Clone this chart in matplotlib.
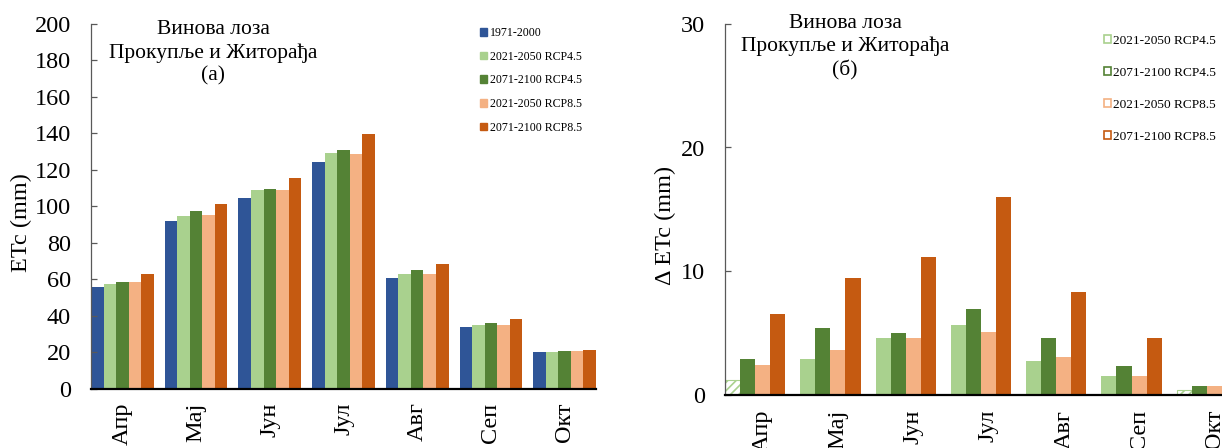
import numpy as np
import matplotlib
matplotlib.use("Agg")
import matplotlib.pyplot as plt
from matplotlib.patches import Patch

plt.rcParams["font.family"] = ["Liberation Serif", "DejaVu Serif"]
plt.rcParams["hatch.linewidth"] = 1.2

months = ["Апр", "Мај", "Јун", "Јул", "Авг", "Сеп", "Окт"]
labels = ["1971-2000", "2021-2050 RCP4.5", "2071-2100 RCP4.5",
          "2021-2050 RCP8.5", "2071-2100 RCP8.5"]
colors = ["#2F5597", "#A9D18E", "#548235", "#F4B183", "#C55A11"]

# ETc (mm), panel (a)
etc_base = [55.8, 91.9, 104.3, 124.1, 60.4, 33.7, 19.8]
etc_45_2050 = [57.3, 94.8, 108.9, 129.2, 62.8, 35.1, 20.1]
etc_45_2100 = [58.6, 97.3, 109.4, 130.6, 65.0, 35.9, 20.5]
etc_85_2050 = [58.2, 95.2, 108.9, 128.8, 63.1, 35.1, 20.5]
etc_85_2100 = [62.6, 101.2, 115.5, 139.8, 68.4, 38.1, 21.0]

# delta ETc (mm), panel (б)
d_45_2050 = [1.2, 2.9, 4.6, 5.6, 2.7, 1.5, 0.4]
d_45_2100 = [2.9, 5.4, 5.0, 6.9, 4.6, 2.3, 0.7]
d_85_2050 = [2.4, 3.6, 4.6, 5.1, 3.0, 1.5, 0.7]
d_85_2100 = [6.5, 9.4, 11.1, 16.0, 8.3, 4.6, 1.2]
hatched = [True, False, False, False, False, False, True]

fig = plt.figure(figsize=(12.22, 4.48), dpi=100)
x = np.arange(len(months))


def style_axes(ax, labelpad_x):
    for s in ["top", "right"]:
        ax.spines[s].set_visible(False)
    ax.spines["left"].set_color("#595959")
    ax.spines["left"].set_linewidth(0.9)
    ax.spines["bottom"].set_color("black")
    ax.spines["bottom"].set_linewidth(1.6)
    ax.tick_params(axis="y", direction="in", length=4.5, width=0.9,
                   color="#595959", labelsize=17.5, pad=14.5)
    ax.tick_params(axis="x", length=0, labelsize=17.5, pad=labelpad_x)
    ax.set_xticks(x)
    ax.set_xticklabels(months, rotation=90)


# ---- panel (a)
ax1 = fig.add_axes([91 / 1222, 59.5 / 448, 505 / 1222, 364.5 / 448])
series_a = [etc_base, etc_45_2050, etc_45_2100, etc_85_2050, etc_85_2100]
w = 0.17
for k, vals in enumerate(series_a):
    ax1.bar(x - 0.425 + k * w, vals, width=w, align="edge",
            color=colors[k], linewidth=0)
ax1.set_xlim(-0.425, 6.425)
ax1.set_ylim(0, 200)
ax1.set_yticks(np.arange(0, 201, 20))
style_axes(ax1, 10)
ax1.set_ylabel("ETc (mm)", fontsize=17.5)
ax1.yaxis.set_label_coords(-0.117, 0.454)
fig.text(213.5 / 1222, 1 - 53 / 448, "Винова лоза\nПрокупље и Житорађа\n(а)",
         ha="center", va="center", fontsize=15.5, linespacing=1.27)
h1 = [Patch(facecolor=c, edgecolor=c) for c in colors]
fig.legend(h1, labels, loc="upper left",
           bbox_to_anchor=(480 / 1222, 1 - 27 / 448), frameon=False,
           fontsize=8.6, handlelength=0.6, handleheight=0.6,
           handletextpad=0.2, labelspacing=0.98, borderpad=0,
           borderaxespad=0)

# ---- panel (б)
ax2 = fig.add_axes([725 / 1222, 53.5 / 448, 527 / 1222, 370.5 / 448])
series_b = [d_45_2050, d_45_2100, d_85_2050, d_85_2100]
w = 0.2
for k, vals in enumerate(series_b):
    c = colors[k + 1]
    if k == 0:
        for i, v in enumerate(vals):
            if hatched[i]:
                ax2.bar(x[i] - 0.5, v, width=w, align="edge", color="white",
                        edgecolor=c, hatch="////", linewidth=0.8)
            else:
                ax2.bar(x[i] - 0.5, v, width=w, align="edge", color=c,
                        linewidth=0)
    else:
        ax2.bar(x - 0.5 + k * w, vals, width=w, align="edge", color=c,
                linewidth=0)
ax2.set_xlim(-0.5, 6.5)
ax2.set_ylim(0, 30)
ax2.set_yticks([0, 10, 20, 30])
style_axes(ax2, 11)
ax2.set_ylabel("Δ ETc (mm)", fontsize=17.5)
ax2.yaxis.set_label_coords(-0.093, 0.4575)
fig.text(845 / 1222, 1 - 47 / 448, "Винова лоза\nПрокупље и Житорађа\n(б)",
         ha="center", va="center", fontsize=15.5, linespacing=1.27)
h2 = [Patch(facecolor="white", edgecolor=c, linewidth=1.2) for c in colors[1:]]
fig.legend(h2, labels[1:], loc="upper left",
           bbox_to_anchor=(1104 / 1222, 1 - 35 / 448), frameon=False,
           fontsize=9.6, handlelength=0.5, handleheight=0.5,
           handletextpad=0.2, labelspacing=1.5, borderpad=0,
           borderaxespad=0)

fig.savefig("out.png", dpi=100)
